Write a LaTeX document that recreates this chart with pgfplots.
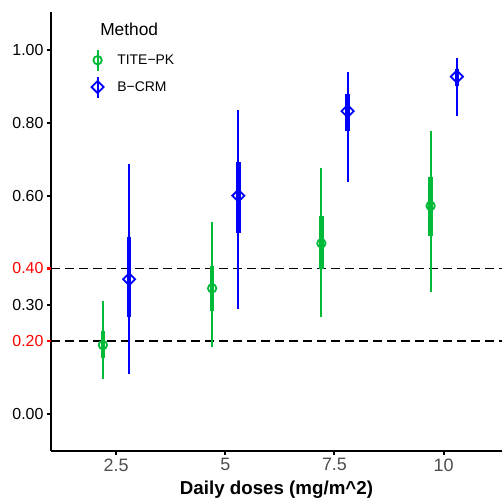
\documentclass[border=0pt]{standalone}
\usepackage{fontspec}
\setmainfont{Liberation Sans}
\usepackage{pgfplots}
\pgfplotsset{compat=1.18}
\definecolor{tgreen}{HTML}{00BA38}
\definecolor{tblue}{HTML}{0000FF}
\definecolor{tickgrey}{HTML}{4D4D4D}
\pgfplotsset{barleg/.style={legend image code/.code={
    \path (0bp,0bp) (26bp,0bp);
    \draw[##1, mark=none, line width=1.8bp, solid] (8.5bp,-10.5bp) -- (8.5bp,10.5bp);
    \draw[##1, only marks] plot coordinates {(8.5bp,0bp)};}}}

\begin{document}
\begin{tikzpicture}
\useasboundingbox (-51bp,-48bp) rectangle (451bp,451bp);
\begin{axis}[
  at={(0,0)}, anchor=south west,
  scale only axis, width=451bp, height=439bp,
  xmin=1.012, xmax=11.334, ymin=-0.103, ymax=1.106,
  axis x line*=bottom, axis y line*=left,
  axis line style={-, line width=1.2bp, black},
  xtick={2.5,5,7.5,10}, xticklabels={2.5,5,7.5,10},
  ytick={0,0.3,0.6,0.8,1.0}, yticklabels={0.00,0.30,0.60,0.80,1.00},
  extra y ticks={0.2,0.4}, extra y tick labels={0.20,0.40},
  extra y tick style={yticklabel style={text=red}, major tick style={draw=red, line width=2.5bp}},
  tick align=outside, major tick length=4bp,
  tick style={line width=2bp, black},
  x tick label style={font=\fontsize{18}{20}\selectfont, text=tickgrey},
  y tick label style={font=\fontsize{16}{18}\selectfont},
  xlabel={\bfseries Daily doses (mg/m\textasciicircum 2)},
  x label style={font=\fontsize{18.8}{21}\selectfont, at={(axis description cs:0.5,0)}, anchor=base, yshift=-43bp},
  legend style={draw=none, fill=none, at={(rel axis cs:0.077,0.985)}, anchor=north west,
    font=\fontsize{14}{16}\selectfont, row sep=4bp},
  legend cell align=left,
  unbounded coords=jump,
]
\addlegendimage{empty legend}
\addlegendentry{\hspace*{-17bp}\raisebox{6bp}{\fontsize{17.4}{20}\selectfont Method}}

\addplot[forget plot, black, line width=1.4bp, dash pattern=on 9bp off 5bp] coordinates {(1.012,0.2) (11.334,0.2)};
\addplot[forget plot, black, line width=1.4bp, dash pattern=on 9bp off 5bp] coordinates {(1.012,0.4) (11.334,0.4)};

% TITE-PK outer (thin) intervals
\addplot[forget plot, draw=tgreen, line width=2bp, mark=none] coordinates {
  (2.2,0.096) (2.2,0.310) (2.2,nan)
  (4.7,0.184) (4.7,0.527) (4.7,nan)
  (7.2,0.265) (7.2,0.675) (7.2,nan)
  (9.7,0.336) (9.7,0.778)};
% B-CRM outer (thin) intervals
\addplot[forget plot, draw=tblue, line width=2bp, mark=none] coordinates {
  (2.8,0.108) (2.8,0.687) (2.8,nan)
  (5.3,0.289) (5.3,0.836) (5.3,nan)
  (7.8,0.639) (7.8,0.942) (7.8,nan)
  (10.3,0.820) (10.3,0.979)};
% TITE-PK inner (thick) intervals
\addplot[forget plot, draw=tgreen, line width=4.6bp, mark=none] coordinates {
  (2.2,0.154) (2.2,0.228) (2.2,nan)
  (4.7,0.283) (4.7,0.406) (4.7,nan)
  (7.2,0.397) (7.2,0.544) (7.2,nan)
  (9.7,0.489) (9.7,0.651)};
% B-CRM inner (thick) intervals
\addplot[forget plot, draw=tblue, line width=4.6bp, mark=none] coordinates {
  (2.8,0.266) (2.8,0.486) (2.8,nan)
  (5.3,0.498) (5.3,0.692) (5.3,nan)
  (7.8,0.778) (7.8,0.880) (7.8,nan)
  (10.3,0.902) (10.3,0.949)};

% point estimates
\addplot[only marks, tgreen, mark=o, mark size=4.2bp, mark options={line width=1.8bp, fill=none}, barleg]
  coordinates {(2.2,0.189) (4.7,0.345) (7.2,0.469) (9.7,0.572)};
\addlegendentry{TITE−PK}
\addplot[only marks, tblue, mark=square, mark size=4.3bp, mark options={line width=1.8bp, fill=none, rotate=45}, barleg]
  coordinates {(2.8,0.370) (5.3,0.600) (7.8,0.833) (10.3,0.928)};
\addlegendentry{B−CRM}
\end{axis}
\end{tikzpicture}
\end{document}
